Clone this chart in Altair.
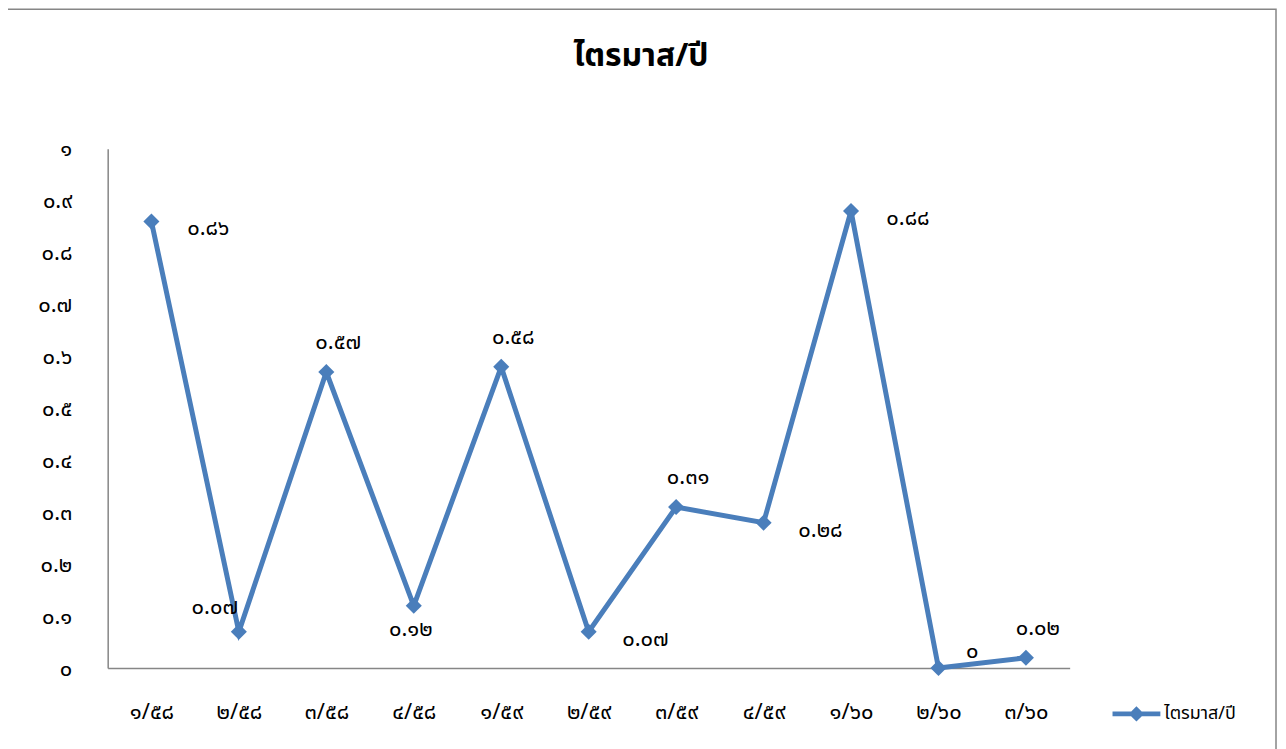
import altair as alt
import pandas as pd

categories = ["๑/๕๘", "๒/๕๘", "๓/๕๘", "๔/๕๘", "๑/๕๙", "๒/๕๙", "๓/๕๙", "๔/๕๙", "๑/๖๐", "๒/๖๐", "๓/๖๐"]
values = [0.86, 0.07, 0.57, 0.12, 0.58, 0.07, 0.31, 0.28, 0.88, 0.0, 0.02]
value_labels = ["๐.๘๖", "๐.๐๗", "๐.๕๗", "๐.๑๒", "๐.๕๘", "๐.๐๗", "๐.๓๑", "๐.๒๘", "๐.๘๘", "๐", "๐.๐๒"]
label_side = ["right", "above_left", "above", "below", "above", "right", "above", "right", "right", "above_right", "above"]
y_tick_labels = ["๐", "๐.๑", "๐.๒", "๐.๓", "๐.๔", "๐.๕", "๐.๖", "๐.๗", "๐.๘", "๐.๙", "๑"]
series_name = "ไตรมาส/ปี"
title_text = "ไตรมาส/ปี"

df = pd.DataFrame({
    "cat": categories,
    "val": values,
    "lab": value_labels,
    "side": label_side,
    "series": [series_name] * len(categories),
})

BLUE = "#4a7ebb"
GRAY = "#868686"
FONT = "Noto Sans Thai, Noto Sans, sans-serif"

label_expr = "[" + ",".join("'" + t + "'" for t in y_tick_labels) + "][round(datum.value*10)]"

x_enc = alt.X("cat:N", sort=categories, title=None,
              scale=alt.Scale(type="point", padding=0.5),
              axis=alt.Axis(labelAngle=0, ticks=False, grid=False, domainColor=GRAY,
                            domainWidth=1.5, labelPadding=34, labelFontSize=22,
                            labelFont=FONT, labelColor="#000000"))
y_enc = alt.Y("val:Q", title=None,
              scale=alt.Scale(domain=[0, 1], nice=False, zero=True),
              axis=alt.Axis(values=[i / 10 for i in range(11)], labelExpr=label_expr,
                            ticks=False, grid=False, domainColor=GRAY, domainWidth=1.5,
                            labelPadding=36, labelFontSize=22, labelFont=FONT,
                            labelColor="#000000"))

base = alt.Chart(df)

line = base.mark_line(strokeWidth=5).encode(
    x=x_enc, y=y_enc,
    color=alt.Color("series:N", title=None,
                    scale=alt.Scale(range=[BLUE]),
                    legend=alt.Legend(orient="none", legendX=1008, legendY=543,
                                      symbolType="M-1,-0.1H1V0.1H-1Z M0,-0.32L0.32,0L0,0.32L-0.32,0Z",
                                      symbolSize=2304, symbolFillColor=BLUE,
                                      symbolStrokeColor=BLUE, symbolStrokeWidth=0,
                                      labelFontSize=18, labelFont=FONT,
                                      labelColor="#000000", symbolOffset=0)),
)

points = base.mark_point(shape="diamond", filled=True, size=260, opacity=1, color=BLUE).encode(
    x=x_enc, y=y_enc
)

offsets = {
    "right": (57, 7),
    "above_left": (-24, -25),
    "above": (12, -30),
    "below": (-3, 23),
    "above_right": (34, -17),
}

text_layers = []
for side, (dx, dy) in offsets.items():
    text_layers.append(
        base.transform_filter(alt.datum.side == side)
        .mark_text(dx=dx, dy=dy, fontSize=22, font=FONT, color="#000000",
                   align="center", baseline="middle")
        .encode(x=x_enc, y=y_enc, text="lab:N")
    )

frame = alt.Chart(alt.Data(values=[{}])).mark_rect(
    fill=None, stroke=GRAY, strokeWidth=1.5
).encode(
    x=alt.value(-101), x2=alt.value(1172), y=alt.value(-140), y2=alt.value(606)
)

title_mark = alt.Chart(alt.Data(values=[{"t": title_text}])).mark_text(
    fontSize=32, fontWeight="bold", font=FONT, color="#000000",
    align="center", baseline="middle"
).encode(text="t:N", x=alt.value(535), y=alt.value(-93))

chart = alt.layer(frame, title_mark, line, points, *text_layers).properties(
    width=965,
    height=521,
    padding={"left": 100, "top": 140, "right": 209, "bottom": 80},
    autosize=alt.AutoSizeParams(type="none"),
).configure(background="white").configure_view(stroke=None)

chart.save("out.html", embed_options={"renderer": "svg", "actions": False})
